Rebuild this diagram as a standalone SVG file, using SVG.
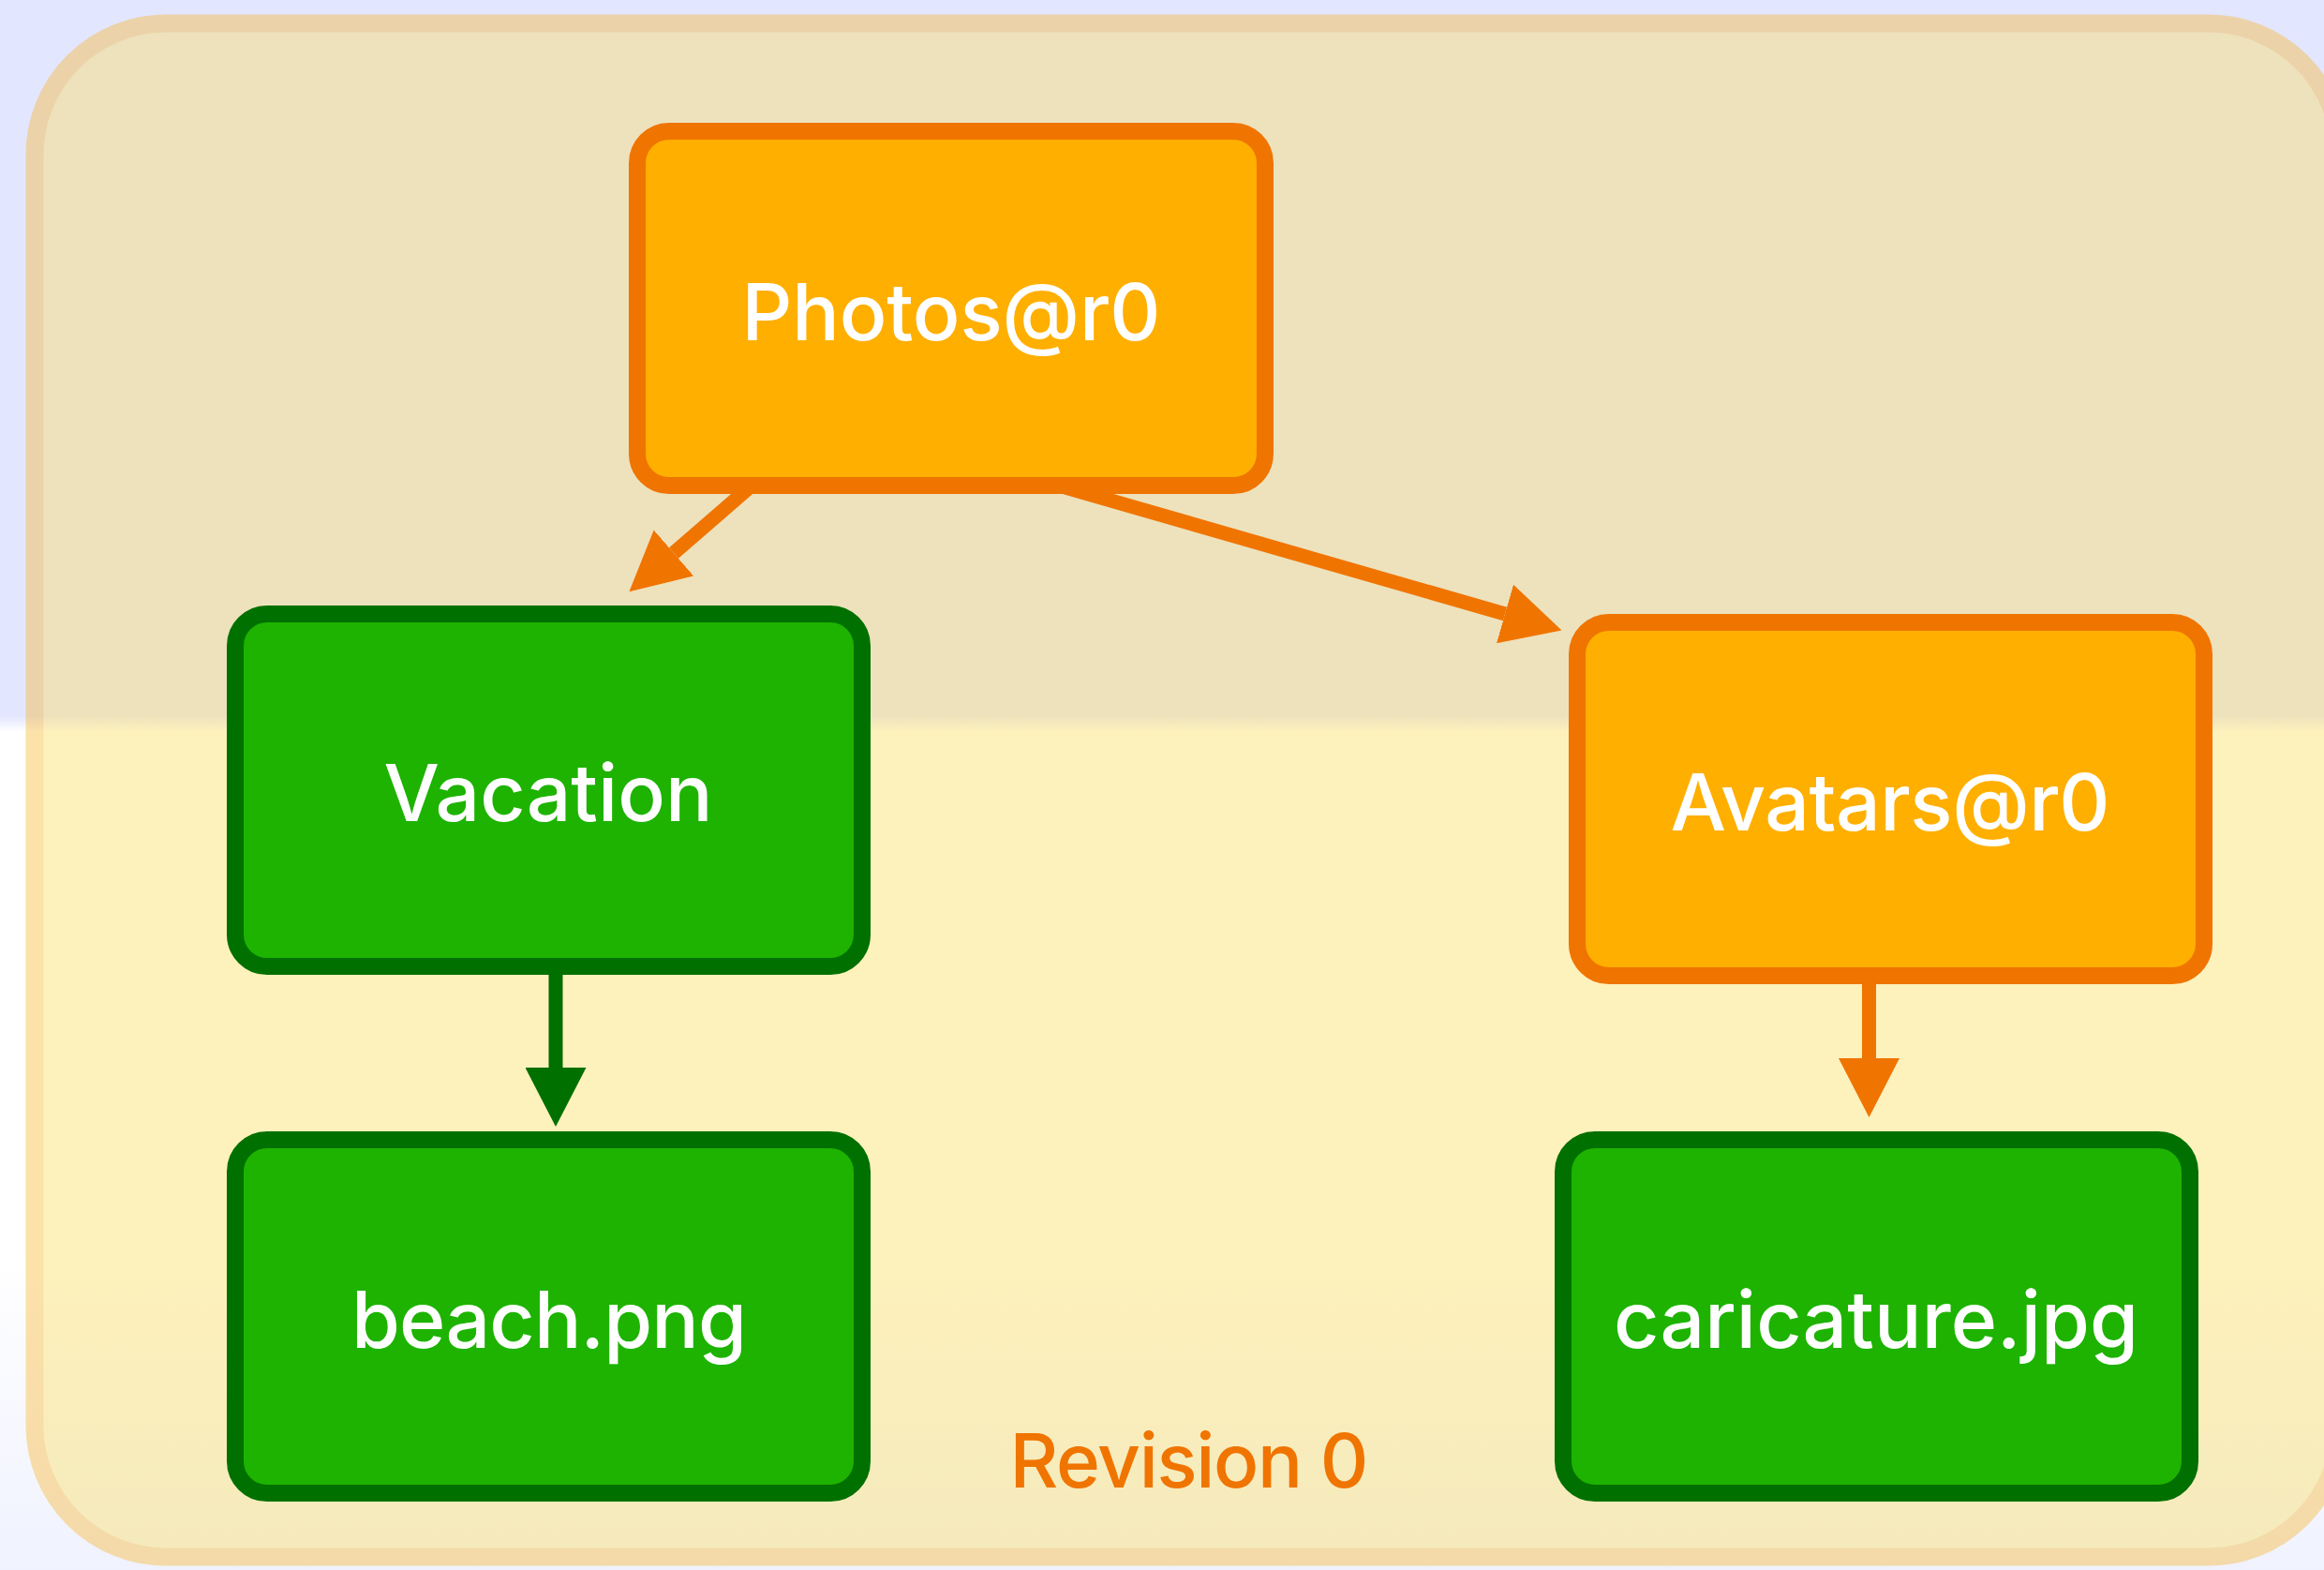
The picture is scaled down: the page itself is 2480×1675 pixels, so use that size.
<svg xmlns="http://www.w3.org/2000/svg" width="2480" height="1675" viewBox="0 0 2480 1675">
  <defs>
    <linearGradient id="bg" x1="0" y1="0" x2="0" y2="1675" gradientUnits="userSpaceOnUse">
      <stop offset="0" stop-color="#e3e6ff"/>
      <stop offset="0.456" stop-color="#e3e6ff"/>
      <stop offset="0.466" stop-color="#ffffff"/>
      <stop offset="0.8" stop-color="#ffffff"/>
      <stop offset="1" stop-color="#f0f2ff"/>
    </linearGradient>
    <marker id="ahOrange" viewBox="0 0 63 65" refX="0" refY="32.5" markerWidth="63" markerHeight="65" markerUnits="userSpaceOnUse" orient="auto">
      <path d="M0,0 L63,32.5 L0,65 Z" fill="#f07400"/>
    </marker>
    <marker id="ahGreen" viewBox="0 0 63 65" refX="0" refY="32.5" markerWidth="63" markerHeight="65" markerUnits="userSpaceOnUse" orient="auto">
      <path d="M0,0 L63,32.5 L0,65 Z" fill="#007000"/>
    </marker>
  </defs>
  <style>
    .orange rect { fill: #ffaf00; stroke: #f07400; stroke-width: 18; }
    .green rect { fill: #1db300; stroke: #007000; stroke-width: 18; }
    .label { font-family: Inter, "Noto Sans", "Liberation Sans", sans-serif; font-size: 84px; font-weight: 500; fill: #ffffff; text-anchor: middle; }
    .edge { fill: none; stroke-width: 15; }
    .edge.o { stroke: #f07400; marker-end: url(#ahOrange); }
    .edge.g { stroke: #007000; marker-end: url(#ahGreen); }
    .rev { font-family: Inter, "Noto Sans", "Liberation Sans", sans-serif; font-size: 80px; font-weight: 500; fill: #f07400; text-anchor: middle; }
  </style>

  <rect x="0" y="0" width="2480" height="1675" fill="url(#bg)"/>

  <g id="revision0" opacity="0.4">
    <rect x="37" y="25" width="2460" height="1636" rx="140" ry="140" fill="#fcde5a" stroke="#fab62a" stroke-width="19"/>
  </g>
  <text class="rev" x="1269" y="1587" textLength="383">Revision 0</text>

  <g id="connectors">
    <line class="edge o" x1="802" y1="518" x2="719" y2="590"/>
    <line class="edge o" x1="1102" y1="510" x2="1606" y2="655"/>
    <line class="edge g" x1="593" y1="1030" x2="593" y2="1139"/>
    <line class="edge o" x1="1994.5" y1="1040" x2="1994.5" y2="1129"/>
  </g>

  <g id="photos" class="orange">
    <rect x="680" y="140" width="670" height="378" rx="34" ry="34"/>
    <text class="label" x="1015" y="363" textLength="447">Photos@r0</text>
  </g>
  <g id="vacation" class="green">
    <rect x="251" y="655" width="669" height="376" rx="34" ry="34"/>
    <text class="label" x="585" y="876" textLength="351">Vacation</text>
  </g>
  <g id="avatars" class="orange">
    <rect x="1683" y="664" width="669" height="377" rx="34" ry="34"/>
    <text class="label" x="2017" y="886" textLength="469">Avatars@r0</text>
  </g>
  <g id="beach" class="green">
    <rect x="251" y="1216" width="669" height="377" rx="34" ry="34"/>
    <text class="label" x="586" y="1438" textLength="422">beach.png</text>
  </g>
  <g id="caricature" class="green">
    <rect x="1668" y="1216" width="669" height="377" rx="34" ry="34"/>
    <text class="label" x="2002" y="1438" textLength="560">caricature.jpg</text>
  </g>
</svg>
